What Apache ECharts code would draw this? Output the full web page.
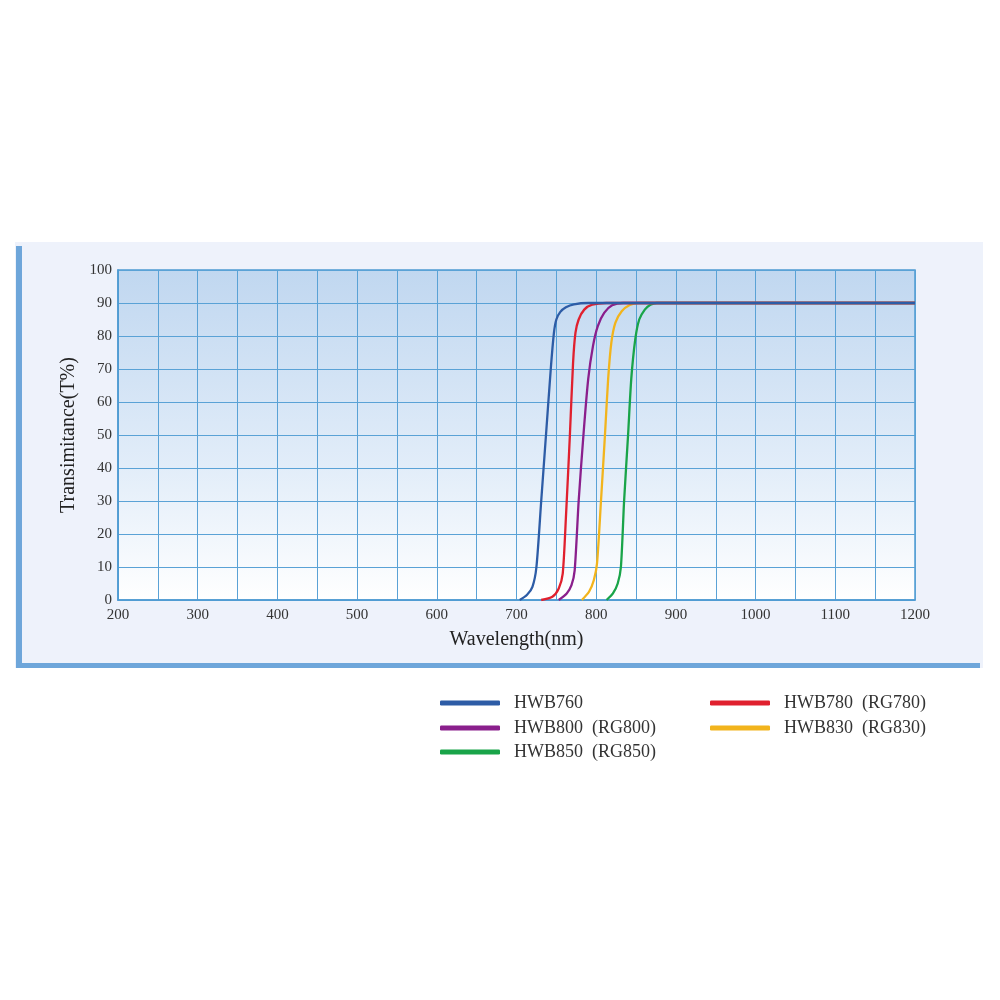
<!DOCTYPE html>
<html>
<head>
<meta charset="utf-8">
<script src="https://cdn.jsdelivr.net/npm/echarts@6/dist/echarts.min.js"></script>
<style>html,body{margin:0;padding:0;background:#fff}#c{width:1000px;height:1000px}</style>
</head>
<body>
<div id="c"></div>
<script>
// Wavelength (nm) / transmittance (%) pairs
var hwb760 = [[704,0],[713,1.5],[720,4],[725,10],[731,30],[737,50],[743,70],[747,81],[750,85],[755,87.3],[762,88.7],[772,89.6],[790,90],[1200,90]];
var hwb780 = [[731,0],[745,1],[753,3.5],[758,8],[762,25],[767,50],[771,72],[774,81],[778,85],[785,88],[795,89.5],[813,90],[1200,90]];
var hwb800 = [[753,0],[763,2],[769,4.5],[773,9],[778,30],[784,50],[790,67],[796,77],[802,83],[810,87],[820,89.3],[834,90],[1200,90]];
var hwb830 = [[782,0],[791,2.5],[797,6],[801,11],[806,30],[811,50],[815,67],[819,78],[824,84],[832,87.5],[842,89.4],[853,90],[1200,90]];
var hwb850 = [[813,0],[821,2],[827,5],[831,10],[835,30],[840,50],[844,67],[849,79],[854,85],[861,88],[868,89.5],[876,90],[1200,90]];
var seriesNames = ['HWB760','HWB780  (RG780)','HWB800  (RG800)','HWB830  (RG830)','HWB850  (RG850)'];
var xTicks = [200,300,400,500,600,700,800,900,1000,1100,1200];
var yTicks = [0,10,20,30,40,50,60,70,80,90,100];

var colors = ['#2D5CA6','#E0202E','#8A1F8C','#F2B41C','#19A449'];
var datasets = [hwb760, hwb780, hwb800, hwb830, hwb850];
var serif = '"Liberation Serif","DejaVu Serif",serif';

var chart = echarts.init(document.getElementById('c'));
var series = [];
var order = [4,3,2,1,0];
order.forEach(function(i){
  series.push({
    name: seriesNames[i], type: 'line', data: datasets[i], smooth: 0.25,
    showSymbol: false, symbol: 'none',
    lineStyle: {color: colors[i], width: 2.3}, itemStyle: {color: colors[i]}
  });
});

function legendAt(i, left, top){
  return {
    data: [seriesNames[i]], left: left, top: top, orient: 'horizontal',
    icon: 'roundRect', itemWidth: 60, itemHeight: 5,
    textStyle: {fontFamily: serif, fontSize: 18, color: '#333', padding: [0,0,0,9]}
  };
}

chart.setOption({
  animation: false,
  backgroundColor: '#ffffff',
  graphic: [
    {type: 'rect', z: -10, shape: {x: 15, y: 242, width: 968, height: 426}, style: {fill: '#EEF2FB'}},
    {type: 'rect', z: -9, shape: {x: 16, y: 246, width: 6, height: 422}, style: {fill: '#6EA6DA'}},
    {type: 'rect', z: -9, shape: {x: 16, y: 663, width: 964, height: 5}, style: {fill: '#6EA6DA'}}
  ],
  legend: [
    legendAt(0, 435, 689),
    legendAt(1, 705, 689),
    legendAt(2, 435, 714),
    legendAt(3, 705, 714),
    legendAt(4, 435, 738)
  ],
  grid: {
    left: 118, right: 85, top: 270, bottom: 400, show: true,
    borderColor: '#4E9AD2', borderWidth: 1.5,
    backgroundColor: new echarts.graphic.LinearGradient(0,0,0,1,[
      {offset: 0, color: '#C0D7F0'}, {offset: 0.6, color: '#E2EDF9'}, {offset: 1, color: '#FFFFFF'}
    ])
  },
  xAxis: {
    type: 'value', min: 200, max: 1200, interval: 50,
    name: 'Wavelength(nm)', nameLocation: 'middle', nameGap: 30,
    nameTextStyle: {fontFamily: serif, fontSize: 20, color: '#222'},
    axisLine: {lineStyle: {color: '#4E9AD2', width: 1.5}},
    axisTick: {show: false},
    axisLabel: {fontFamily: serif, fontSize: 15, color: '#333', margin: 8,
      formatter: function(v){ return xTicks.indexOf(v) >= 0 ? String(v) : ''; }},
    splitLine: {show: true, lineStyle: {color: '#5AA2D6', width: 1}}
  },
  yAxis: {
    type: 'value', min: 0, max: 100, interval: 10,
    name: 'Transimitance(T%)', nameLocation: 'middle', nameGap: 30, nameRotate: 90,
    nameTextStyle: {fontFamily: serif, fontSize: 20, color: '#222'},
    axisLine: {lineStyle: {color: '#4E9AD2', width: 1.5}},
    axisTick: {show: false},
    axisLabel: {fontFamily: serif, fontSize: 15, color: '#333', margin: 6,
      formatter: function(v){ return yTicks.indexOf(v) >= 0 ? String(v) : ''; }},
    splitLine: {show: true, lineStyle: {color: '#5AA2D6', width: 1}}
  },
  series: series
});
</script>
</body>
</html>
